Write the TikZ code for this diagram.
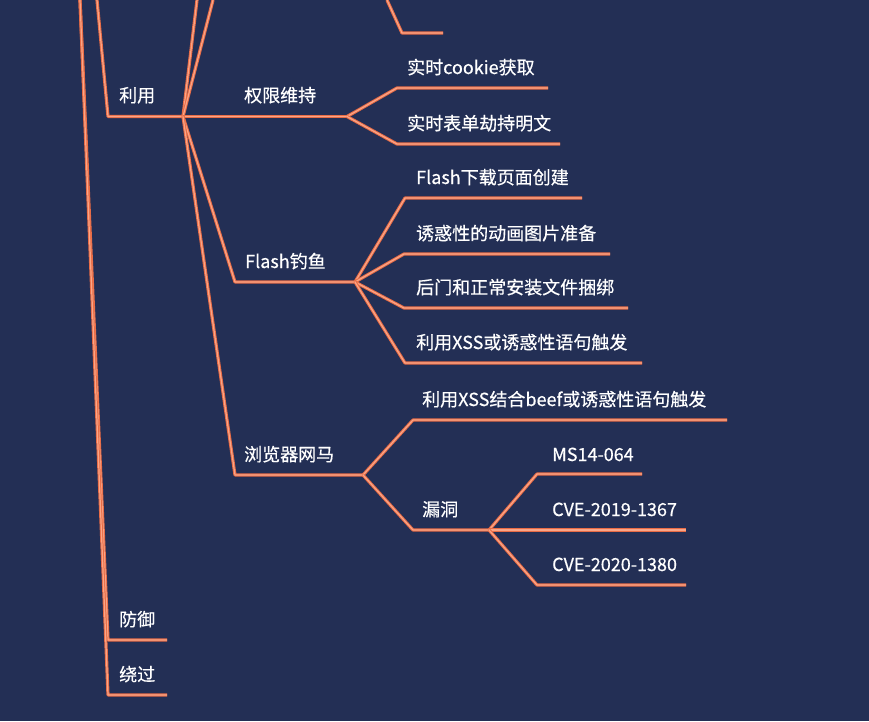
\documentclass[tikz,border=0pt]{standalone}
\usepackage{fontspec}
\setmainfont[FakeBold=0.5]{Noto Sans CJK SC}
\definecolor{bgc}{RGB}{35,47,85}
\definecolor{linec}{RGB}{232,108,70}
\definecolor{linelight}{RGB}{250,165,135}
\begin{document}
\begin{tikzpicture}[x=1pt,y=-1pt,
  br/.style={draw=linec, line width=3.2pt, line join=round, line cap=butt,
             postaction={draw=linelight, line width=1.2pt}},
  lbl/.style={anchor=base west, text=white, inner sep=0pt,
              font=\fontsize{18}{20}\selectfont}]
\fill[bgc] (0,0) rectangle (869,721);
\useasboundingbox (0,0) rectangle (869,721);

% coordinates
\coordinate (rootL) at (80,0);
\coordinate (rootU) at (97,0);
\coordinate (lyS) at (108,116.5);
\coordinate (lyJ) at (183,116.5);
\coordinate (upA) at (197,0);
\coordinate (upB) at (213,0);
\coordinate (topS) at (387,0);
\coordinate (topC) at (402,33);
\coordinate (topE) at (443,33);
\coordinate (fyS) at (108,640);
\coordinate (fyE) at (167,640);
\coordinate (rgS) at (108,695);
\coordinate (rgE) at (167,695);
% 权限维持
\coordinate (qxJ) at (347,116.5);
\coordinate (c1S) at (397,88);  \coordinate (c1E) at (548,88);
\coordinate (c2S) at (397,144); \coordinate (c2E) at (560,144);
% Flash钓鱼
\coordinate (flS) at (235,282);
\coordinate (flJ) at (355,282);
\coordinate (f1S) at (405,198); \coordinate (f1E) at (582,198);
\coordinate (f2S) at (404,254); \coordinate (f2E) at (610,254);
\coordinate (f3S) at (404,308); \coordinate (f3E) at (628,308);
\coordinate (f4S) at (405,363); \coordinate (f4E) at (642,363);
% 浏览器网马
\coordinate (wmS) at (235,475);
\coordinate (wmJ) at (363,475);
\coordinate (w1S) at (413,420); \coordinate (w1E) at (727,420);
\coordinate (ldS) at (413,530);
\coordinate (ldJ) at (489,530);
\coordinate (v1S) at (537,474); \coordinate (v1E) at (642,474);
\coordinate (v2E) at (686,530);
\coordinate (v3S) at (537,585); \coordinate (v3E) at (686,585);

% connectors
\draw[br] (rootL) -- (fyS) -- (fyE);
\draw[br] (rootL) -- (rgS) -- (rgE);
\draw[br] (rootU) -- (lyS) -- (lyJ);
\draw[br] (lyJ) -- (upA);
\draw[br] (lyJ) -- (upB);
\draw[br] (topS) -- (topC) -- (topE);
\draw[br] (lyJ) -- (qxJ);
\draw[br] (qxJ) -- (c1S) -- (c1E);
\draw[br] (qxJ) -- (c2S) -- (c2E);
\draw[br] (lyJ) -- (flS) -- (flJ);
\draw[br] (flJ) -- (f1S) -- (f1E);
\draw[br] (flJ) -- (f2S) -- (f2E);
\draw[br] (flJ) -- (f3S) -- (f3E);
\draw[br] (flJ) -- (f4S) -- (f4E);
\draw[br] (lyJ) -- (wmS) -- (wmJ);
\draw[br] (wmJ) -- (w1S) -- (w1E);
\draw[br] (wmJ) -- (ldS) -- (ldJ);
\draw[br] (ldJ) -- (v1S) -- (v1E);
\draw[br] (ldJ) -- (v2E);
\draw[br] (ldJ) -- (v3S) -- (v3E);

% labels
\node[lbl] (tLY) at (119,102) {利用};
\node[lbl] (tQX) at (244,102) {权限维持};
\node[lbl] (tC1) at (407,74) {实时cookie获取};
\node[lbl] (tC2) at (407,130) {实时表单劫持明文};
\node[lbl] (tFL) at (245,268) {Flash钓鱼};
\node[lbl] (tF1) at (416,184) {Flash下载页面创建};
\node[lbl] (tF2) at (416,240) {诱惑性的动画图片准备};
\node[lbl] (tF3) at (416,294) {后门和正常安装文件捆绑};
\node[lbl] (tF4) at (416,349) {利用XSS或诱惑性语句触发};
\node[lbl] (tWM) at (244,461) {浏览器网马};
\node[lbl] (tW1) at (422,406) {利用XSS结合beef或诱惑性语句触发};
\node[lbl] (tLD) at (422,516) {漏洞};
\node[lbl] (tV1) at (552,461) {MS14-064};
\node[lbl] (tV2) at (552,516) {CVE-2019-1367};
\node[lbl] (tV3) at (552,571) {CVE-2020-1380};
\node[lbl] (tFY) at (119,626) {防御};
\node[lbl] (tRG) at (119,681) {绕过};
\end{tikzpicture}
\end{document}
